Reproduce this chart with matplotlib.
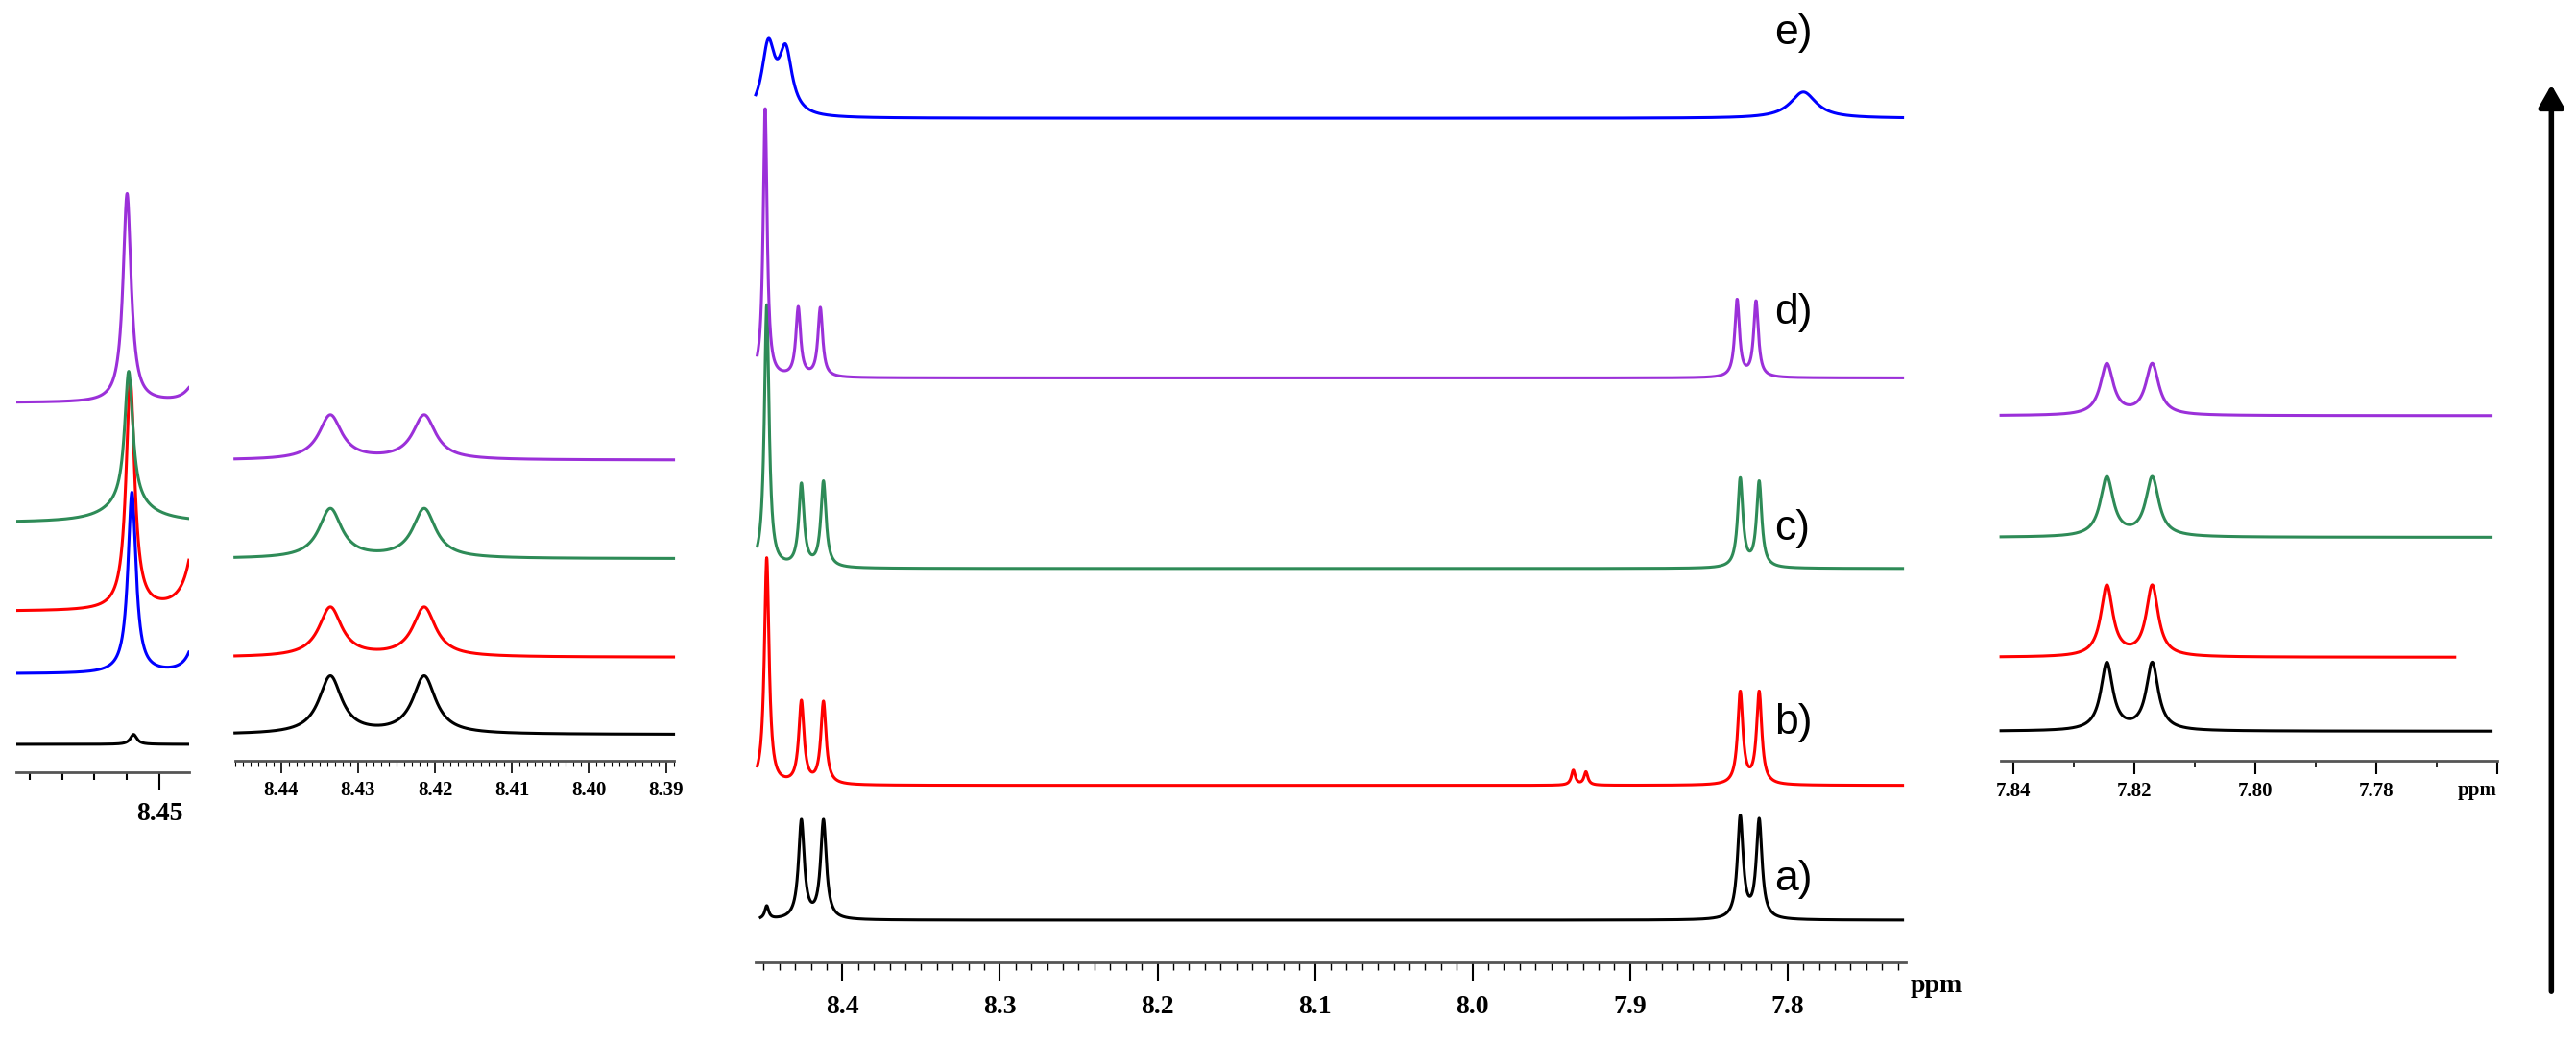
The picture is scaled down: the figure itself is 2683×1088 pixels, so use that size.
import numpy as np
import matplotlib
matplotlib.use("Agg")
import matplotlib.pyplot as plt
from matplotlib.ticker import MultipleLocator, FixedLocator

plt.rcParams['font.family'] = ['Liberation Serif', 'DejaVu Serif']

W, H = 1568.0, 636.0  # layout reference units

colors = {'a': 'black', 'b': 'red', 'c': '#2e8b57', 'd': '#9b30d9', 'e': 'blue'}

# ---- data: peaks (ppm, height, hwhm) per spectrum ----
main_peaks = {
    'a': [(8.448, 8, 0.0015), (8.426, 60, 0.0022), (8.412, 60, 0.0022), (7.830, 62, 0.0022), (7.818, 60, 0.0022)],
    'b': [(8.448, 138, 0.0018), (8.426, 50, 0.0020), (8.412, 50, 0.0020), (7.936, 9, 0.0015), (7.928, 8, 0.0015), (7.830, 56, 0.0020), (7.818, 56, 0.0020)],
    'c': [(8.448, 160, 0.0018), (8.426, 50, 0.0020), (8.412, 52, 0.0020), (7.830, 54, 0.0020), (7.818, 52, 0.0020)],
    'd': [(8.449, 164, 0.0015), (8.428, 42, 0.0018), (8.414, 42, 0.0018), (7.832, 47, 0.0018), (7.820, 46, 0.0018)],
    'e': [(8.447, 42, 0.005), (8.436, 38, 0.005), (7.790, 16, 0.010)],
}
main_base = {'a': 26, 'b': 108, 'c': 240, 'd': 356, 'e': 514}

p1_peaks = {
    'a': [(8.4508, 6, 0.00012)],
    'e': [(8.45085, 110, 0.00015), (8.4488, 30, 0.00025)],
    'b': [(8.4509, 139, 0.00016), (8.4488, 60, 0.0003)],
    'c': [(8.45095, 80, 0.00015), (8.45095, 12, 0.0008)],
    'd': [(8.4510, 127, 0.00015), (8.4489, 12, 0.0003)],
}
p1_base = {'a': 17, 'e': 60, 'b': 98, 'c': 152, 'd': 225}

p2_peaks = {
    'a': [(8.4336, 35, 0.0018), (8.4214, 35, 0.0018)],
    'b': [(8.4336, 30, 0.0018), (8.4214, 30, 0.0018)],
    'c': [(8.4336, 30, 0.0018), (8.4214, 30, 0.0018)],
    'd': [(8.4336, 27, 0.0018), (8.4214, 27, 0.0018)],
}
p2_base = {'a': 16, 'b': 63, 'c': 123, 'd': 183}

p3_peaks = {
    'a': [(7.8245, 41, 0.0012), (7.8170, 41, 0.0012)],
    'b': [(7.8245, 43, 0.0012), (7.8170, 43, 0.0012)],
    'c': [(7.8245, 36, 0.0013), (7.8170, 36, 0.0013)],
    'd': [(7.8245, 31, 0.0013), (7.8170, 31, 0.0013)],
}
p3_base = {'a': 18, 'b': 63, 'c': 136, 'd': 210}

labels = ['a)', 'b)', 'c)', 'd)', 'e)']


def spectrum(x, peaks):
    y = np.zeros_like(x)
    for c, h, w in peaks:
        y += h / (1 + ((x - c) / w) ** 2)
    return y


fig = plt.figure(figsize=(26.83, 10.88), dpi=100)


def make_ax(x0, x1, spine_y, ppm_left, ppm_right):
    ax = fig.add_axes([x0 / W, 1 - spine_y / H, (x1 - x0) / W, spine_y / H])
    ax.set_xlim(ppm_left, ppm_right)
    ax.set_ylim(0, spine_y)
    for s in ['left', 'right', 'top']:
        ax.spines[s].set_visible(False)
    ax.spines['bottom'].set_color('#555555')
    ax.spines['bottom'].set_linewidth(2)
    ax.set_yticks([])
    ax.patch.set_alpha(0)
    return ax


def draw(ax, peaks, base, lo, hi, lw=2.2, order=None, xr=None, clip=False):
    x = np.linspace(lo, hi, 4000)
    for k in (order or peaks.keys()):
        xx = x
        if xr and k in xr:
            xx = np.linspace(xr[k][0], xr[k][1], 4000)
        ax.plot(xx, base[k] + spectrum(xx, peaks[k]), color=colors[k], lw=lw, clip_on=clip)


# main panel
ax = make_ax(460, 1160, 586, 8.455, 7.725)
draw(ax, main_peaks, main_base, 8.454, 7.727, lw=2.2, xr={'e': (8.455, 7.727), 'a': (8.452, 7.727)})
ax.xaxis.set_major_locator(FixedLocator([8.4, 8.3, 8.2, 8.1, 8.0, 7.9, 7.8]))
ax.xaxis.set_minor_locator(MultipleLocator(0.01))
ax.tick_params(axis='x', which='major', length=14, width=1.5, labelsize=20, pad=10)
ax.tick_params(axis='x', which='minor', length=6, width=1)
ax.set_xticklabels(['8.4', '8.3', '8.2', '8.1', '8.0', '7.9', '7.8'], fontweight='bold')
fig.text(1163 / W, 1 - 600 / H, 'ppm', fontsize=20, fontweight='bold', ha='left', va='center')

label_y = [535, 440, 322, 190, 20]
for lab, yy in zip(labels, label_y):
    fig.text(1080 / W, 1 - yy / H, lab, fontsize=32, ha='left', va='center', family='Liberation Sans')

# panel 1
ax1 = make_ax(10, 115, 470, 8.4544, 8.4491)
draw(ax1, p1_peaks, p1_base, 8.4544, 8.4491, lw=2.2, order=['a', 'e', 'b', 'c', 'd'], clip=True)
ax1.xaxis.set_major_locator(FixedLocator([8.45]))
ax1.xaxis.set_minor_locator(FixedLocator([8.454, 8.453, 8.452, 8.451]))
ax1.set_xticklabels(['8.45'], fontweight='bold')
ax1.tick_params(axis='x', which='major', length=14, width=1.5, labelsize=20, pad=8)
ax1.tick_params(axis='x', which='minor', length=6, width=1.5)

# panel 2
ax2 = make_ax(143, 410, 463, 8.446, 8.389)
draw(ax2, p2_peaks, p2_base, 8.446, 8.389)
ax2.xaxis.set_major_locator(FixedLocator([8.44, 8.43, 8.42, 8.41, 8.40, 8.39]))
ax2.xaxis.set_minor_locator(MultipleLocator(0.001))
ax2.set_xticklabels(['8.44', '8.43', '8.42', '8.41', '8.40', '8.39'], fontweight='bold')
ax2.tick_params(axis='x', which='major', length=9, width=1.2, labelsize=15, pad=6)
ax2.tick_params(axis='x', which='minor', length=4, width=0.8)

# panel 3
ax3 = make_ax(1218, 1520, 463, 7.842, 7.760)
draw(ax3, p3_peaks, p3_base, 7.842, 7.761, xr={'b': (7.842, 7.767)})
ax3.xaxis.set_major_locator(FixedLocator([7.84, 7.82, 7.80, 7.78, 7.76]))
ax3.xaxis.set_minor_locator(FixedLocator([7.83, 7.81, 7.79, 7.77]))
ax3.set_xticklabels(['7.84', '7.82', '7.80', '7.78', ''], fontweight='bold')
ax3.tick_params(axis='x', which='major', length=10, width=1.5, labelsize=15, pad=6)
ax3.tick_params(axis='x', which='minor', length=5, width=1.2)
fig.text(1508 / W, 1 - 481 / H, 'ppm', fontsize=15, fontweight='bold', ha='center', va='center')

# arrow
fig.add_artist(matplotlib.patches.FancyArrowPatch(
    (1553 / W, 1 - 605 / H), (1553 / W, 1 - 50 / H), transform=fig.transFigure,
    arrowstyle='-|>,head_width=8,head_length=14', lw=4, color='black', mutation_scale=1))

fig.savefig('out.png', dpi=100)
